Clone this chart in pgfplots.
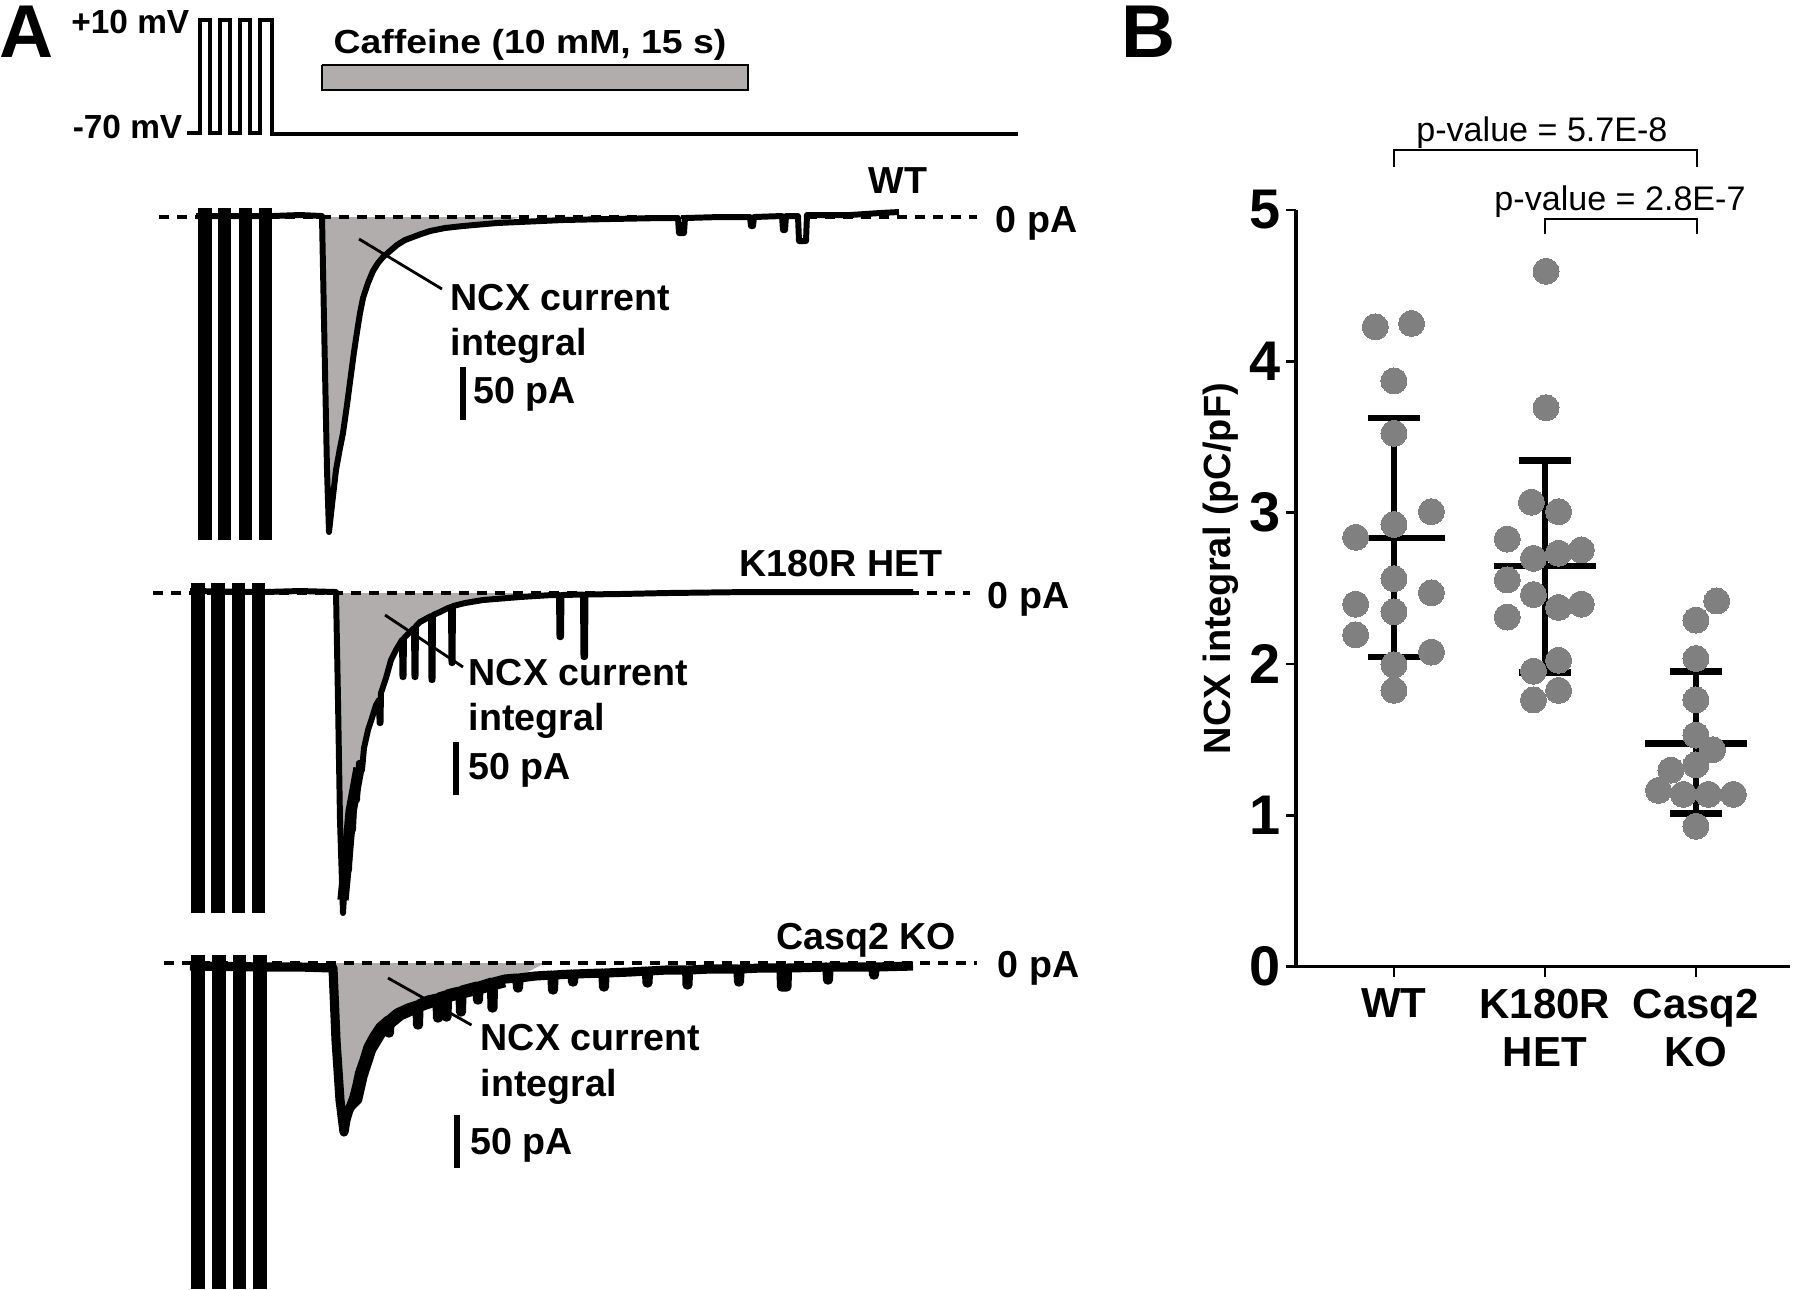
\documentclass[border=0pt]{standalone}
\usepackage{pgfplots}
\pgfplotsset{compat=1.18}
\usepackage{fontspec}
\setmainfont{Liberation Sans}
\newfontfamily\widesans[FakeStretch=1.12]{Liberation Sans}
\definecolor{fillgray}{RGB}{176,173,172}
\definecolor{dotgray}{RGB}{128,128,128}
\begin{document}
\begin{tikzpicture}
\useasboundingbox (0,0) rectangle (180mm,128.9mm);
% ================= Panel A (pixel-coordinate canvas) =================
\begin{axis}[at={(0,0)}, anchor=south west, scale only axis,
  width=180mm, height=128.9mm, xmin=0, xmax=1800, ymin=0, ymax=1289,
  y dir=reverse, hide axis, clip=false]
% panel letters
\node[anchor=base west, inner sep=0, font=\bfseries\fontsize{21.3}{25}\selectfont] at (axis cs:-1,57) {A};
\node[anchor=base west, inner sep=0, font=\bfseries\fontsize{21.3}{25}\selectfont] at (axis cs:1121,57) {B};
% voltage protocol
\node[anchor=base east, inner sep=0, font=\bfseries\fontsize{9.5}{11}\selectfont] at (axis cs:190,33) {+10 mV};
\node[anchor=base east, inner sep=0, font=\bfseries\fontsize{9.5}{11}\selectfont] at (axis cs:183,138) {-70 mV};
\addplot[black, line width=1.15pt, line join=miter] coordinates {
(187,133) (200,133) (200,20) (210,20) (210,133) (220,133) (220,20) (230,20) (230,133)
(240,133) (240,20) (250,20) (250,133) (260,133) (260,20) (272,20) (272,134) (1018,134)};
% caffeine bar
\addplot[fill=fillgray, draw=black, line width=0.6pt] coordinates {(322,65) (748,65) (748,90) (322,90) (322,65)};
\node[anchor=base west, inner sep=0, font=\widesans\bfseries\fontsize{9.5}{11}\selectfont] at (axis cs:333,53) {Caffeine (10 mM, 15 s)};

% ---------------- WT ----------------
\addplot[fill=fillgray, draw=none] coordinates {
(322,217) (324,320) (327,470) (329,532) (332,505) (336,470) (340,448) (343,433) (347,405) (350,382)
(354,352) (357,332) (360,313) (363,298) (368,283) (373,271) (378,263) (383,257) (390,251) (397,245)
(405,240) (413,237) (421,234) (430,231) (445,228) (463,226) (480,224.5) (500,222) (520,217)};
\addplot[black, line width=0.9pt, dash pattern=on 1.0mm off 0.8mm] coordinates {(159,217) (977,217)};
\addplot[black, line width=1.7pt, line join=round] coordinates {
(196,216) (272,216) (300,215) (322,216) (324,320) (327,470) (329,532) (332,505) (336,470) (340,448)
(343,433) (347,405) (350,382) (354,352) (357,332) (360,313) (363,298) (368,283) (373,271) (378,263)
(383,257) (390,251) (397,245) (405,240) (413,237) (421,234) (430,231) (445,228) (463,226) (480,224.5)
(497,223) (530,221.5) (563,220) (610,219) (663,218) (678,218) (679,233) (684,233) (685,218) (720,217)
(750,217) (751,226) (753,226) (754,217) (782,216) (783,230) (785,230) (786,216) (798,216) (799,241)
(806,241) (807,215) (850,215) (880,213) (899,212)};
\addplot[fill=black, draw=none] coordinates {(198,208) (212,208) (212,540) (198,540)};
\addplot[fill=black, draw=none] coordinates {(218,208) (231,208) (231,540) (218,540)};
\addplot[fill=black, draw=none] coordinates {(239,208) (252,208) (252,540) (239,540)};
\addplot[fill=black, draw=none] coordinates {(259,208) (272,208) (272,540) (259,540)};
\addplot[black, line width=0.8pt] coordinates {(359,239) (442,289)};
\addplot[black, line width=1.8pt] coordinates {(463,367) (463,420)};
\node[anchor=base west, inner sep=0, font=\bfseries\fontsize{10.7}{12}\selectfont] at (axis cs:450,310) {NCX current};
\node[anchor=base west, inner sep=0, font=\bfseries\fontsize{10.7}{12}\selectfont] at (axis cs:450,355) {integral};
\node[anchor=base west, inner sep=0, font=\bfseries\fontsize{10.7}{12}\selectfont] at (axis cs:473,403) {50 pA};
\node[anchor=base, inner sep=0, font=\bfseries\fontsize{10.7}{12}\selectfont] at (axis cs:898,193) {WT};
\node[anchor=base west, inner sep=0, font=\bfseries\fontsize{10.7}{12}\selectfont] at (axis cs:995,232) {0 pA};

% ---------------- K180R HET ----------------
\addplot[fill=fillgray, draw=none] coordinates {
(336,593) (338,700) (340,820) (343,913) (347,850) (351,800) (355,785) (359,763) (368,730) (376,705)
(381,693) (391,660) (402,640) (410,632) (420,622) (433,615) (448,608) (465,603) (483,600) (500,598) (525,593)};
\addplot[black, line width=0.9pt, dash pattern=on 1.0mm off 0.8mm] coordinates {(153,593) (970,593)};
\addplot[black, line width=1.7pt, line join=round] coordinates {
(190,591) (265,592) (300,591) (336,592) (338,700) (340,820) (343,913) (345,880) (347,850) (349,870)
(351,800) (353,830) (355,785) (357,800) (359,763) (362,770) (364,748) (368,730) (372,718) (376,705)
(379,700) (379.6,723) (380.5,723) (381,693) (386,678) (391,660) (396,650) (402,640) (402.5,677)
(403.5,677) (404,638) (410,632) (414,628) (414.5,677) (415.5,677) (416,626) (420,622) (431,616)
(431.5,680) (432.5,680) (433,615) (440,612) (448,608) (451,607) (451.5,663) (452.5,663) (453,606)
(465,603) (483,600) (520,597) (552,595) (559,595) (559.5,637) (561,637) (561.5,595) (583,594.5)
(583.5,657) (585,657) (585.5,594.5) (620,594) (667,593) (750,592) (850,592) (913,592)};
\addplot[black, line width=3.2pt, line join=round] coordinates {(343,900) (347,858) (351,812) (355,790) (359,768)};
\addplot[fill=black, draw=none] coordinates {(191,583) (204.5,583) (204.5,913) (191,913)};
\addplot[fill=black, draw=none] coordinates {(211,583) (224.6,583) (224.6,913) (211,913)};
\addplot[fill=black, draw=none] coordinates {(231.5,583) (244.7,583) (244.7,913) (231.5,913)};
\addplot[fill=black, draw=none] coordinates {(252,583) (265,583) (265,913) (252,913)};
\addplot[black, line width=0.8pt] coordinates {(385,615) (463,667)};
\addplot[black, line width=1.8pt] coordinates {(456,742) (456,795)};
\node[anchor=base west, inner sep=0, font=\bfseries\fontsize{10.7}{12}\selectfont] at (axis cs:468,685) {NCX current};
\node[anchor=base west, inner sep=0, font=\bfseries\fontsize{10.7}{12}\selectfont] at (axis cs:468,730) {integral};
\node[anchor=base west, inner sep=0, font=\bfseries\fontsize{10.7}{12}\selectfont] at (axis cs:468,779) {50 pA};
\node[anchor=base, inner sep=0, font=\bfseries\fontsize{10.7}{12}\selectfont] at (axis cs:841,576) {K180R HET};
\node[anchor=base west, inner sep=0, font=\bfseries\fontsize{10.7}{12}\selectfont] at (axis cs:987,608) {0 pA};

% ---------------- Casq2 KO ----------------
\addplot[fill=fillgray, draw=none] coordinates {
(334,963) (336,1040) (340,1100) (344,1132) (348,1113) (354,1097) (359.5,1073) (368,1047) (380,1027)
(397,1013) (420,1003) (448,994) (470,988) (494,981) (520,976) (545,963)};
\addplot[black, line width=0.9pt, dash pattern=on 1.0mm off 0.8mm] coordinates {(164,963) (977,963)};
\addplot[black, line width=2.6pt, line join=round] coordinates {
(190,966) (267,967) (300,967) (333,968) (336,1040) (340,1100) (344,1132) (346,1120) (348,1113) (351,1105)
(354,1097) (357,1085) (359.5,1073) (364,1060) (368,1047) (374,1036) (380,1027) (388,1020) (388.5,1033)
(389.5,1033) (390,1019) (397,1013) (408,1008) (417,1005) (417.5,1025) (418.5,1025) (419,1004) (428,1000)
(437,998) (437.5,1018) (438.5,1018) (439,997) (445.6,995) (446,1017) (447,1017) (447.5,994) (455,992)
(460,991) (460.5,1012) (461.5,1012) (462,990) (477,986) (477.5,1000) (478.5,1000) (479,986) (491.5,982)
(492,1008) (493,1008) (493.5,982) (505,979) (517,978) (517.5,988) (518.5,988) (519,978) (535,976)
(552,975) (552.5,990) (553.5,990) (554,975) (572,974) (572.5,982) (573.5,982) (574,974) (603,973)
(603.5,987) (604.5,987) (605,973) (630,972) (646.5,971) (647,983) (648,983) (648.5,971) (666,970)
(686.7,970) (687,985) (688,985) (688.5,970) (710,969) (738,969) (738.5,982) (739.5,982) (740,969)
(760,968) (781,968) (781.5,987) (782.5,987) (787,987) (787.5,968) (827,967) (827.5,980) (828.5,980)
(829,967) (873,967) (873.5,975) (874.5,975) (875,967) (913,966)};
\addplot[black, line width=2.4pt, line join=round] coordinates {
(350,1108) (358,1100) (363.5,1076) (372,1050) (384,1030) (401,1016) (424,1006) (452,997) (480,990) (505,983)};
\addplot[fill=black, draw=none] coordinates {(191,955) (204.5,955) (204.5,1289) (191,1289)};
\addplot[fill=black, draw=none] coordinates {(212,955) (225.5,955) (225.5,1289) (212,1289)};
\addplot[fill=black, draw=none] coordinates {(233,955) (246.4,955) (246.4,1289) (233,1289)};
\addplot[fill=black, draw=none] coordinates {(253,955) (266.5,955) (266.5,1289) (253,1289)};
\addplot[black, line width=0.8pt] coordinates {(388,978) (471.5,1025)};
\addplot[black, line width=1.8pt] coordinates {(457,1115) (457,1168)};
\node[anchor=base west, inner sep=0, font=\bfseries\fontsize{10.7}{12}\selectfont] at (axis cs:480,1050) {NCX current};
\node[anchor=base west, inner sep=0, font=\bfseries\fontsize{10.7}{12}\selectfont] at (axis cs:480,1096) {integral};
\node[anchor=base west, inner sep=0, font=\bfseries\fontsize{10.7}{12}\selectfont] at (axis cs:470,1154) {50 pA};
\node[anchor=base, inner sep=0, font=\bfseries\fontsize{10.7}{12}\selectfont] at (axis cs:866,949) {Casq2 KO};
\node[anchor=base west, inner sep=0, font=\bfseries\fontsize{10.7}{12}\selectfont] at (axis cs:997,977) {0 pA};
\end{axis}

% ================= Panel B =================
\begin{axis}[at={(129.6mm,32.25mm)}, anchor=south west, scale only axis,
  width=49.4mm, height=75.65mm,
  xmin=0.351, xmax=3.623, ymin=0, ymax=5,
  axis x line*=bottom, axis y line*=left,
  axis line style={-, line width=0.95pt, black},
  xtick={1,2,3}, xticklabels={WT, K180R\\HET, Casq2\\KO},
  ytick={0,1,2,3,4,5},
  tick align=outside, major tick length=1.0mm,
  tick style={line width=0.8pt, black},
  /pgf/number format/assume math mode=true,
  yticklabel style={inner sep=0pt, xshift=-0.5mm, font=\bfseries\fontsize{15.9}{18}\selectfont},
  xticklabel style={inner sep=0pt, yshift=-1.15mm, align=center, font=\bfseries\fontsize{11.95}{13.9}\selectfont},
  clip=false]
\node[rotate=90, anchor=base, inner sep=0, font=\bfseries\fontsize{10.8}{13}\selectfont] at (axis cs:-0.086,2.63) {NCX integral (pC/pF)};
% data points
\addplot[only marks, color=dotgray, mark=*, mark size=3.7pt, mark options={fill=dotgray, draw=dotgray, line width=0pt}] coordinates {
(0.876,4.228) (1.116,4.25) (1,3.87) (1,3.524) (1.248,3.006) (0.746,2.837) (1,2.922) (1,2.563)
(1.248,2.47) (0.746,2.395) (1,2.344) (0.746,2.192) (1.248,2.078) (1,1.994) (1,1.825)};
\addplot[only marks, color=dotgray, mark=*, mark size=3.7pt, mark options={fill=dotgray, draw=dotgray, line width=0pt}] coordinates {
(2.007,4.595) (2.007,3.693) (1.910,3.069) (2.090,3.006) (1.750,2.825) (2.241,2.753) (2.090,2.732)
(1.924,2.698) (1.750,2.555) (1.924,2.458) (2.241,2.395) (2.090,2.373) (1.750,2.31) (2.090,2.024)
(1.924,1.952) (2.090,1.825) (1.924,1.762)};
\addplot[only marks, color=dotgray, mark=*, mark size=3.7pt, mark options={fill=dotgray, draw=dotgray, line width=0pt}] coordinates {
(3.138,2.416) (3,2.289) (3,2.036) (3,1.762) (3,1.53) (3.110,1.433) (2.834,1.298) (3,1.332)
(2.752,1.164) (2.917,1.138) (3.083,1.138) (3.248,1.138) (3,0.927)};
% mean +- SD
\addplot[black, line width=1.9pt] coordinates {(0.665,2.833) (1.335,2.833)};
\addplot[black, line width=1.9pt] coordinates {(1,2.045) (1,3.626)};
\addplot[black, line width=1.9pt] coordinates {(0.83,3.626) (1.17,3.626)};
\addplot[black, line width=1.9pt] coordinates {(0.83,2.045) (1.17,2.045)};
\addplot[black, line width=1.9pt] coordinates {(1.665,2.648) (2.335,2.648)};
\addplot[black, line width=1.9pt] coordinates {(2,1.943) (2,3.343)};
\addplot[black, line width=1.9pt] coordinates {(1.83,3.343) (2.17,3.343)};
\addplot[black, line width=1.9pt] coordinates {(1.83,1.943) (2.17,1.943)};
\addplot[black, line width=1.9pt] coordinates {(2.665,1.476) (3.335,1.476)};
\addplot[black, line width=1.9pt] coordinates {(3,1.012) (3,1.952)};
\addplot[black, line width=1.9pt] coordinates {(2.83,1.952) (3.17,1.952)};
\addplot[black, line width=1.9pt] coordinates {(2.83,1.012) (3.17,1.012)};
% significance brackets
\addplot[black, line width=0.77pt] coordinates {(1,5.284) (1,5.397) (3.007,5.397) (3.007,5.284)};
\addplot[black, line width=0.77pt] coordinates {(2,4.84) (2,4.94) (3.007,4.94) (3.007,4.84)};
\node[anchor=base, inner sep=0, font=\fontsize{9.7}{11}\selectfont] at (axis cs:1.98,5.45) {p-value = 5.7E-8};
\node[anchor=base, inner sep=0, font=\fontsize{9.7}{11}\selectfont] at (axis cs:2.497,5.0) {p-value = 2.8E-7};
\end{axis}
\end{tikzpicture}
\end{document}
